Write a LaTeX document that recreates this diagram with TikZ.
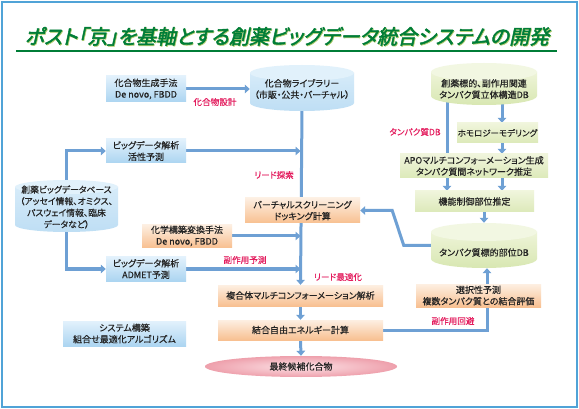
\documentclass[tikz,border=0pt]{standalone}
\usepackage{fontspec}
\usetikzlibrary{arrows.meta,calc,shapes.geometric}
\newfontfamily\jp{Noto Sans CJK JP}[RawFeature=+palt,FakeBold=0.4]
\newfontfamily\jpt{Noto Sans CJK JP}[RawFeature=+palt,FakeSlant=0.22,FakeBold=2.2]
\definecolor{framecol}{RGB}{80,163,215}
\definecolor{titlegreen}{RGB}{0,125,55}
\definecolor{titleshade}{RGB}{175,205,110}
\definecolor{arrowblue}{RGB}{110,160,212}
\definecolor{labelred}{RGB}{228,30,95}
\definecolor{txtcol}{RGB}{35,35,35}
\definecolor{blueboxtop}{RGB}{226,241,252}
\definecolor{blueboxbot}{RGB}{172,213,241}
\definecolor{orangetop}{RGB}{253,239,226}
\definecolor{orangebot}{RGB}{248,192,145}
\definecolor{greentop}{RGB}{240,245,220}
\definecolor{greenbot}{RGB}{220,233,185}
\definecolor{bluecyla}{RGB}{214,235,249}
\definecolor{bluecylb}{RGB}{190,222,244}
\definecolor{bluecylc}{RGB}{225,241,251}
\definecolor{greencyla}{RGB}{238,244,216}
\definecolor{greencylb}{RGB}{216,231,178}
\definecolor{greencylc}{RGB}{242,247,226}
\definecolor{pinkin}{RGB}{252,226,230}
\definecolor{pinkout}{RGB}{238,160,172}
\pgfdeclarelayer{back}
\pgfdeclarelayer{bg}
\pgfsetlayers{back,bg,main}
\newcommand{\mycyl}[7]{%
  \pgfmathsetmacro{\cyT}{-(#3)+(#5)-(#6)}%
  \pgfmathsetmacro{\cyB}{-(#3)-(#5)+(#6)}%
  \pgfmathsetmacro{\cxL}{(#2)-(#4)}%
  \pgfmathsetmacro{\cxR}{(#2)+(#4)}%
  \shade[top color=#7a, bottom color=#7b] (\cxL,\cyT) -- (\cxL,\cyB) arc[start angle=180,end angle=360,x radius=#4,y radius=#6] -- (\cxR,\cyT) -- cycle;
  \fill[#7c] (#2,\cyT) ellipse[x radius=#4,y radius=#6];
  \node[inner sep=0pt, minimum width=2*#4, minimum height=2*#5] (#1) at (#2,-#3) {};
}
\begin{document}
\begin{tikzpicture}[x=1pt,y=1pt,
  txt/.style={text=txtcol, font=\jp\fontsize{9}{11.4}\selectfont, align=center, inner sep=0pt},
  bluebox/.style={txt, top color=blueboxtop, bottom color=blueboxbot},
  orangebox/.style={txt, top color=orangetop, bottom color=orangebot},
  greenbox/.style={txt, top color=greentop, bottom color=greenbot},
  lbl/.style={text=labelred, font=\jp\fontsize{8.6}{10}\selectfont, inner sep=0pt},
  flow/.style={draw=arrowblue, line width=3pt, -{Triangle[length=5pt,width=8.5pt]}},
  plainflow/.style={draw=arrowblue, line width=3pt}
]
\begin{pgfonlayer}{back}
\useasboundingbox (0,0) rectangle (579,-409);
\fill[white] (0,0) rectangle (579,-409);
\draw[framecol, line width=2.6pt] (2,-2) rectangle (577,-407);
\end{pgfonlayer}

% title
\node[font=\jpt\fontsize{20}{20}\selectfont, text=titleshade, inner sep=0pt] (titleshadow) at (287.7,-37.1) {ポスト「京」を基軸とする創薬ビッグデータ統合システムの開発};
\node[font=\jpt\fontsize{20}{20}\selectfont, text=titlegreen, inner sep=0pt] (title) at (287,-36.3) {ポスト「京」を基軸とする創薬ビッグデータ統合システムの開発};
\fill[titlegreen] (16,-50.4) rectangle (557,-52.4);

% left column
\node[bluebox, minimum width=80, minimum height=26] (gen) at (146,-89) {化合物生成手法\\De novo, FBDD};
\node[bluebox, minimum width=80, minimum height=24] (bdaA) at (146,-151) {ビッグデータ解析\\活性予測};
\mycyl{bigdb}{66.5}{206}{51.5}{26}{7}{bluecyl}
\node[txt, font=\jp\fontsize{8.8}{11.6}\selectfont] (bigdbtext) at (66.5,-207) {創薬ビッグデータベース\\（アッセイ情報、オミクス、\\パスウェイ情報、臨床\\データなど）};
\node[bluebox, minimum width=80, minimum height=24] (bdaB) at (146,-269) {ビッグデータ解析\\ADMET予測};
\node[orangebox, minimum width=90, minimum height=23] (chem) at (187,-236) {化学構築変換手法\\De novo, FBDD};
\node[bluebox, minimum width=123, minimum height=25] (sys) at (124.5,-333.5) {システム構築\\組合せ最適化アルゴリズム};

% center column
\mycyl{lib}{302}{88}{52}{23}{8}{bluecyl}
\node[txt] (libtext) at (302,-89) {化合物ライブラリー\\（市販・公共・バーチャル）};
\node[orangebox, minimum width=115, minimum height=25] (vs) at (302.5,-210.5) {バーチャルスクリーニング\\ドッキング計算};
\node[orangebox, minimum width=165, minimum height=21] (multi) at (300.5,-295.5) {複合体マルチコンフォーメーション解析};
\node[orangebox, minimum width=165, minimum height=20] (bfe) at (300.5,-330) {結合自由エネルギー計算};
\node[txt, ellipse, inner color=pinkin, outer color=pinkout, minimum width=192, minimum height=21] (final) at (301,-366.5) {最終候補化合物};

% right column
\mycyl{tgt}{484}{84}{53}{21}{9}{greencyl}
\node[txt] (tgttext) at (484,-89) {創薬標的、副作用関連\\タンパク質立体構造DB};
\node[greenbox, minimum width=81, minimum height=20, font=\jp\fontsize{8.5}{11}\selectfont] (homo) at (497.5,-133) {ホモロジーモデリング};
\node[greenbox, minimum width=148, minimum height=24] (apo) at (474,-166) {APOマルチコンフォーメーション生成\\タンパク質間ネットワーク推定};
\node[greenbox, minimum width=119, minimum height=21] (func) at (474.5,-201.5) {機能制御部位推定};
\mycyl{site}{484}{245.5}{53}{22.5}{9}{greencyl}
\node[txt] (sitetext) at (484,-252.5) {タンパク質標的部位DB};
\node[orangebox, minimum width=125, minimum height=23] (sel) at (478.5,-295.5) {選択性予測\\複数タンパク質との結合評価};

% labels
\node[lbl] (l1) at (215,-102) {化合物設計};
\node[lbl] (l2) at (274,-175) {リード探索};
\node[lbl] (l3) at (245,-260) {副作用予測};
\node[lbl] (l4) at (338,-277) {リード最適化};
\node[lbl] (l5) at (415,-132) {タンパク質DB};
\node[lbl] (l6) at (453,-321) {副作用回避};

\coordinate (rx) at (502,0);
\coordinate (lx) at (447,0);

\begin{pgfonlayer}{bg}
\draw[flow] (gen.east) -- (gen.east -| lib.west);
\draw[flow] ([yshift=2pt]lib.south) -- (multi.north);
\draw[flow] (bigdb.north) |- (bdaA.west);
\draw[flow] (bigdb.south) |- (bdaB.west);
\draw[flow, shorten >=1.5pt] (bdaA.east) -- (bdaA.east -| lib.south);
\draw[flow, shorten >=1.5pt] (chem.east) -- (chem.east -| lib.south);
\draw[flow, shorten >=1.5pt] (bdaB.east) -- (bdaB.east -| lib.south);
\draw[flow] (multi.south) -- (bfe.north);
\draw[flow] (bfe.south) -- (final.north);
\draw[plainflow] (bfe.east) -| ([xshift=8.5pt,yshift=2pt]sel.south);
\draw[flow] ([xshift=8.5pt]sel.north) -- ([xshift=8.5pt]sel.north |- site.south);
\draw[flow] ([xshift=2pt]site.west) -- ++(-29,0) -- ($(vs.east)+(32,0)$) -- (vs.east);
\draw[flow] ([yshift=6pt]tgt.south -| lx) -- (func.north -| lx);
\draw[flow] ([yshift=6pt]tgt.south -| rx) -- (homo.north -| rx);
\draw[flow] (homo.south -| rx) -- (apo.north -| rx);
\draw[flow] (apo.south -| rx) -- (func.north -| rx);
\draw[flow] (func.south -| site.north) -- (site.north);
\end{pgfonlayer}
\end{tikzpicture}
\end{document}
